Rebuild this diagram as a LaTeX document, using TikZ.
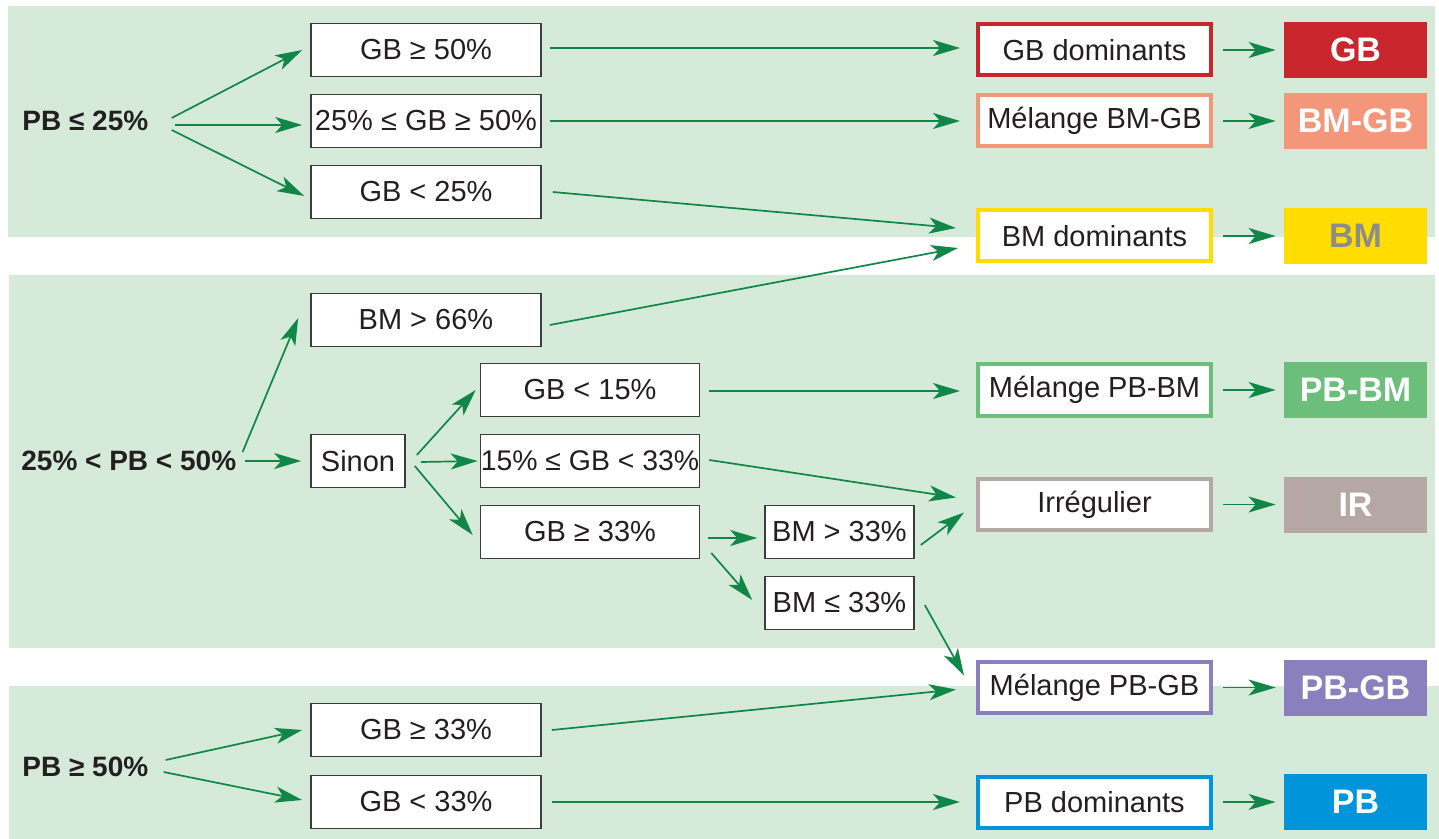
\documentclass[tikz,border=0pt]{standalone}
\usepackage{fontspec}
\setmainfont{Liberation Sans}
\usetikzlibrary{arrows.meta,calc}

\definecolor{bandgreen}{RGB}{213,234,217}
\definecolor{arrowgreen}{RGB}{16,135,72}
\definecolor{ink}{RGB}{35,31,32}
\definecolor{boxline}{RGB}{60,60,60}
\definecolor{cGB}{RGB}{201,37,44}
\definecolor{cBMGB}{RGB}{244,150,122}
\definecolor{cBM}{RGB}{255,221,0}
\definecolor{cBMtext}{RGB}{140,140,140}
\definecolor{cPBBM}{RGB}{107,191,122}
\definecolor{cIR}{RGB}{181,168,164}
\definecolor{cPBGB}{RGB}{138,128,189}
\definecolor{cPB}{RGB}{0,149,218}

\tikzset{
  band/.style={fill=bandgreen, draw=none},
  cond/.style={draw=boxline, line width=0.8pt, fill=white, text=ink,
    inner xsep=1pt, inner ysep=0pt, minimum width=115pt, minimum height=26.5pt,
    font=\fontsize{14.5}{17}\selectfont},
  result/.style={draw=#1, line width=2pt, fill=white, text=ink,
    inner sep=0pt, minimum width=116.5pt, minimum height=25.5pt,
    font=\fontsize{14.5}{17}\selectfont},
  tag/.style={fill=#1, text=white, inner sep=0pt,
    minimum width=71.5pt, minimum height=28pt,
    font=\fontsize{17}{20}\selectfont\bfseries},
  lab/.style={text=ink, inner sep=0pt, anchor=west,
    font=\fontsize{14}{17}\selectfont\bfseries},
  arr/.style={draw=arrowgreen, line width=0.85pt,
    -{Stealth[length=13.5pt,width=8pt,inset=3.5pt]}},
}

\begin{document}
\begin{tikzpicture}[x=0.5pt,y=-0.5pt]
\useasboundingbox (0,0) rectangle (1439,839);

% background bands
\fill[band] (8,6) rectangle (1435,237);
\fill[band] (9,275) rectangle (1435,648);
\fill[band] (9,686) rectangle (1439,839);

% group labels
\node[lab] (pbA) at (22,121) {PB ≤ 25\%};
\node[lab] (pbB) at (21,461) {25\% < PB < 50\%};
\node[lab] (pbC) at (22,767) {PB ≥ 50\%};

% condition boxes
\node[cond] (c1) at (426,50)  {GB ≥ 50\%};
\node[cond] (c2) at (426,121) {25\% ≤ GB ≥ 50\%};
\node[cond] (c3) at (426,192) {GB < 25\%};
\node[cond] (c4) at (426,320) {BM > 66\%};
\node[cond, minimum width=47pt] (sinon) at (358,461) {Sinon};
\node[cond, minimum width=109.5pt] (c5) at (590,390) {GB < 15\%};
\node[cond, minimum width=109.5pt, inner xsep=0pt,
      font=\fontsize{14.2}{17}\selectfont] (c6) at (590,461) {15\% ≤ GB < 33\%};
\node[cond, minimum width=109.5pt] (c7) at (590,532) {GB ≥ 33\%};
\node[cond, minimum width=74.5pt] (c8) at (839.5,532) {BM > 33\%};
\node[cond, minimum width=74.5pt] (c9) at (839.5,603) {BM ≤ 33\%};
\node[cond] (c10) at (426,730) {GB ≥ 33\%};
\node[cond] (c11) at (426,802) {GB < 33\%};

% result boxes
\node[result=cGB]   (r1) at (1094.5,50)    {GB dominants};
\node[result=cBMGB] (r2) at (1094.5,121)   {Mélange BM-GB};
\node[result=cBM]   (r3) at (1094.5,236)   {BM dominants};
\node[result=cPBBM] (r4) at (1094.5,390)   {Mélange PB-BM};
\node[result=cIR]   (r5) at (1094.5,504.5) {Irrégulier};
\node[result=cPBGB] (r6) at (1094.5,687.5) {Mélange PB-GB};
\node[result=cPB]   (r7) at (1094.5,802)   {PB dominants};

% class tags
\node[tag=cGB]   (t1) at (1355.5,50)    {GB};
\node[tag=cBMGB] (t2) at (1355.5,121)   {BM-GB};
\node[tag=cBM, text=cBMtext] (t3) at (1355.5,236) {BM};
\node[tag=cPBBM] (t4) at (1355.5,390)   {PB-BM};
\node[tag=cIR]   (t5) at (1355.5,504.5) {IR};
\node[tag=cPBGB] (t6) at (1355.5,687.5) {PB-GB};
\node[tag=cPB]   (t7) at (1355.5,802)   {PB};

% PB <= 25%
\draw[arr] ($(pbA.east)+(23,-3)$) -- ($(c1.west)+(-8,0)$);
\draw[arr] ($(pbA.east)+(26,4)$)  -- ($(c2.west)+(-8,4)$);
\draw[arr] ($(pbA.east)+(23,9)$)  -- ($(c3.west)+(-6,4)$);
\draw[arr] ($(c1.east)+(8,-2)$)   -- ($(r1.west)+(-16,-2)$);
\draw[arr] ($(c2.east)+(8,0)$)    -- ($(r2.west)+(-16,0)$);
\draw[arr] ($(c3.east)+(11,0)$)   -- ($(r3.west)+(-20,-8)$);

% 25% < PB < 50%
\draw[arr] ($(pbB.east)+(6,-9)$)  -- ($(c4.west)+(-12,-2)$);
\draw[arr] ($(pbB.east)+(8,0)$)   -- ($(sinon.west)+(-9,0)$);
\draw[arr] ($(c4.east)+(8,5)$)    -- ($(r3.west)+(-18,12)$);
\draw[arr] ($(sinon.east)+(11,-6)$) -- ($(c5.west)+(-4,0)$);
\draw[arr] ($(sinon.east)+(15,1)$)  -- ($(c6.west)+(-2,0)$);
\draw[arr] ($(sinon.east)+(9,5)$)   -- ($(c7.west)+(-7,3)$);
\draw[arr] ($(c5.east)+(9,1)$)    -- ($(r4.west)+(-16,1)$);
\draw[arr] ($(c6.east)+(9,-1)$)   -- ($(r5.west)+(-20,-7)$);
\draw[arr] ($(c7.east)+(8,6)$)    -- ($(c8.west)+(-7,6)$);
\draw[arr] ($(c7.east)+(11,21)$)  -- ($(c9.west)+(-12,-3)$);
\draw[arr] ($(c8.east)+(6,13)$)   -- ($(r5.west)+(-12,8)$);
\draw[arr] ($(c9.east)+(10,2)$)   -- ($(r6.west)+(-12,-12)$);

% PB >= 50%
\draw[arr] ($(pbC.east)+(17,-7)$) -- ($(c10.west)+(-8,0)$);
\draw[arr] ($(pbC.east)+(15,5)$)  -- ($(c11.west)+(-8,-2)$);
\draw[arr] ($(c10.east)+(10,0)$)  -- ($(r6.west)+(-20,2)$);
\draw[arr] ($(c11.east)+(10,0)$)  -- ($(r7.west)+(-16,0)$);

% result -> class
\foreach \i in {1,...,7}{
  \draw[arr] ($(r\i.east)+(10,0)$) -- ($(t\i.west)+(-8,0)$);
}
\end{tikzpicture}
\end{document}
